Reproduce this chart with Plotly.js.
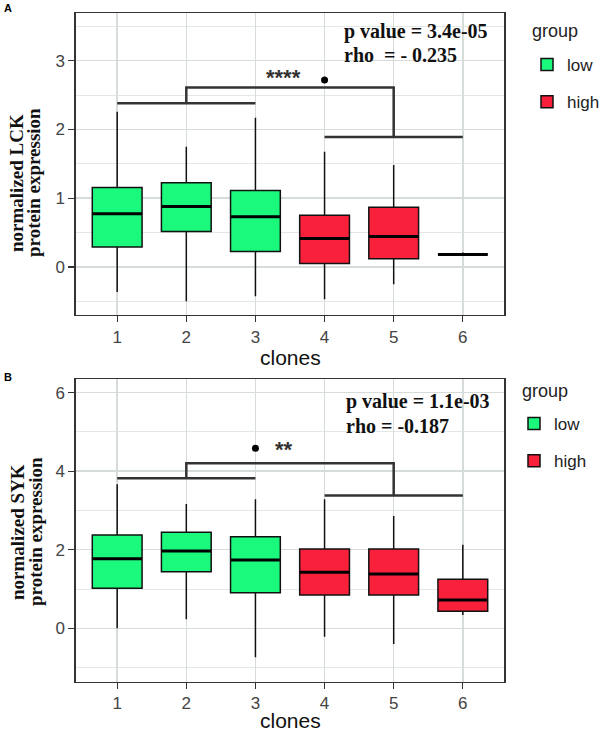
<!DOCTYPE html>
<html>
<head>
<meta charset="utf-8">
<script src="https://cdn.plot.ly/plotly-3.0.1.min.js"></script>
<style>html,body{margin:0;padding:0;background:#fff;}#chart{width:611px;height:735px;}</style>
</head>
<body>
<div id="chart"></div>
<script>
// ---- data ----
const clones = [1, 2, 3, 4, 5, 6];
const cloneLabels = ['1', '2', '3', '4', '5', '6'];
const groups = ['low', 'low', 'low', 'high', 'high', 'high'];

// Panel A: LCK
const lckQ1     = [0.29, 0.515, 0.224, 0.049, 0.117, 0.18];
const lckMedian = [0.772, 0.879, 0.728, 0.413, 0.443, 0.18];
const lckQ3     = [1.156, 1.223, 1.112, 0.753, 0.869, 0.18];
const lckLower  = [-0.364, -0.50, -0.427, -0.47, -0.252, 0.17];
const lckUpper  = [2.257, 1.748, 2.17, 1.675, 1.481, 0.21];
const lckOutX   = [4];
const lckOutY   = [2.72];
const lckBracket = {left: [1, 3, 2.38], right: [4, 6, 1.89], top: [2, 5, 2.61]};
const lckStars = {text: '****', x: 3.4, y: 2.76};
const lckStats = ['p value = 3.4e-05', 'rho  = - 0.235'];

// Panel B: SYK
const sykQ1     = [1.019, 1.442, 0.907, 0.848, 0.848, 0.433];
const sykMedian = [1.773, 1.968, 1.739, 1.426, 1.383, 0.721];
const sykQ3     = [2.376, 2.444, 2.333, 2.019, 2.019, 1.248];
const sykLower  = [0.0, 0.229, -0.739, -0.214, -0.40, 0.339];
const sykUpper  = [3.667, 3.165, 3.285, 3.285, 2.86, 2.13];
const sykOutX   = [3];
const sykOutY   = [4.584];
const sykBracket = {left: [1, 3, 3.82], right: [4, 6, 3.38], top: [2, 5, 4.20]};
const sykStars = {text: '**', x: 3.41, y: 4.55};
const sykStats = ['p value = 1.1e-03', 'rho = -0.187'];

const groupColors = {low: '#1BF97C', high: '#F9203C'};
const boxWidth = 0.72;

// ---- build traces ----
function idx(g) { return clones.map((c, i) => i).filter(i => groups[i] === g); }

function panelTraces(q1, med, q3, lo, hi, outX, outY, br, xa, ya, legendId) {
  const tr = [];
  ['low', 'high'].forEach(g => {
    const ii = idx(g);
    tr.push({
      type: 'box', name: g, legendgroup: g, legend: legendId,
      x: ii.map(i => clones[i]),
      q1: ii.map(i => q1[i]), median: ii.map(i => med[i]), q3: ii.map(i => q3[i]),
      lowerfence: ii.map(i => lo[i]), upperfence: ii.map(i => hi[i]),
      width: boxWidth, whiskerwidth: 0, boxpoints: false,
      fillcolor: groupColors[g], line: {color: '#111', width: 1.5},
      xaxis: xa, yaxis: ya, hoverinfo: 'skip'
    });
  });
  // thicker median lines
  const mx = [], my = [];
  clones.forEach((c, i) => { mx.push(c - boxWidth / 2, c + boxWidth / 2, null); my.push(med[i], med[i], null); });
  tr.push({type: 'scatter', mode: 'lines', x: mx, y: my, line: {color: '#000', width: 3},
           showlegend: false, xaxis: xa, yaxis: ya, hoverinfo: 'skip'});
  // outliers
  tr.push({type: 'scatter', mode: 'markers', x: outX, y: outY, marker: {color: '#000', size: 7},
           showlegend: false, xaxis: xa, yaxis: ya, hoverinfo: 'skip'});
  // brackets
  const bx = [br.left[0], br.left[1], null, br.right[0], br.right[1], null,
              br.top[0], br.top[0], br.top[1], br.top[1]];
  const by = [br.left[2], br.left[2], null, br.right[2], br.right[2], null,
              br.left[2], br.top[2], br.top[2], br.right[2]];
  tr.push({type: 'scatter', mode: 'lines', x: bx, y: by, line: {color: '#333', width: 2.5},
           showlegend: false, xaxis: xa, yaxis: ya, hoverinfo: 'skip'});
  return tr;
}

const data = [].concat(
  panelTraces(lckQ1, lckMedian, lckQ3, lckLower, lckUpper, lckOutX, lckOutY, lckBracket, 'x', 'y', 'legend'),
  panelTraces(sykQ1, sykMedian, sykQ3, sykLower, sykUpper, sykOutX, sykOutY, sykBracket, 'x2', 'y2', 'legend2')
);

// ---- layout ----
const W = 611, H = 735;
const px = v => v / W, py = v => 1 - v / H;
const sans = 'Liberation Sans, Arial, sans-serif';
const serif = 'Liberation Serif, Times New Roman, serif';

function xAxis(anchor) {
  return {
    domain: [px(75.7), px(504.3)], range: [0.4, 6.6], anchor: anchor,
    tickmode: 'array', tickvals: clones, ticktext: cloneLabels,
    showgrid: true, gridcolor: '#d6ddd9', gridwidth: 1.5, zeroline: false,
    showline: true, mirror: true, linecolor: '#333', linewidth: 1.3,
    ticks: 'outside', ticklen: 6, tickcolor: '#333', tickwidth: 1.3,
    tickfont: {family: sans, size: 17, color: '#444'}
  };
}
function yAxis(anchor, dom, range, major, minor) {
  return {
    domain: dom, range: range, anchor: anchor,
    tickmode: 'array', tickvals: major,
    minor: {tickmode: 'array', tickvals: minor, showgrid: true, gridcolor: '#e2e8e5', gridwidth: 1, ticks: ''},
    showgrid: true, gridcolor: '#d6ddd9', gridwidth: 1.5, zeroline: false,
    showline: true, mirror: true, linecolor: '#333', linewidth: 1.3,
    ticks: 'outside', ticklen: 6, tickcolor: '#333', tickwidth: 1.3,
    tickfont: {family: sans, size: 17, color: '#444'}
  };
}

function legendCfg(xp, yp) {
  return {
    x: px(xp), y: py(yp), xanchor: 'left', yanchor: 'top',
    font: {family: sans, size: 17, color: '#222'},
    traceorder: 'grouped', tracegroupgap: 12, bgcolor: 'rgba(0,0,0,0)'
  };
}

function ann(text, x, y, opts) {
  return Object.assign({text: text, xref: 'paper', yref: 'paper', x: px(x), y: py(y),
    showarrow: false, xanchor: 'center', yanchor: 'middle'}, opts || {});
}

const annotations = [
  ann('<b>A</b>', 8, 8, {font: {family: sans, size: 11, color: '#000'}}),
  ann('<b>B</b>', 8, 377, {font: {family: sans, size: 11, color: '#000'}}),
  // legend titles
  ann('group', 530, 31, {xanchor: 'left', font: {family: sans, size: 18, color: '#222'}}),
  ann('group', 520, 391, {xanchor: 'left', font: {family: sans, size: 18, color: '#222'}}),
  // y titles
  ann('<b>normalized LCK</b>', 16, 183, {textangle: -90, font: {family: serif, size: 19, color: '#111'}}),
  ann('<b>protein expression</b>', 33, 183, {textangle: -90, font: {family: serif, size: 19, color: '#111'}}),
  ann('<b>normalized SYK</b>', 17, 532, {textangle: -90, font: {family: serif, size: 19, color: '#111'}}),
  ann('<b>protein expression</b>', 35, 532, {textangle: -90, font: {family: serif, size: 19, color: '#111'}}),
  // x titles
  ann('clones', 290, 358, {font: {family: sans, size: 21, color: '#111'}}),
  ann('clones', 290, 720, {font: {family: sans, size: 21, color: '#111'}}),
  // stats
  ann('<b>' + lckStats[0] + '</b>', 342, 31, {xanchor: 'left', font: {family: serif, size: 20, color: '#111'}}),
  ann('<b>' + lckStats[1] + '</b>', 342, 55, {xanchor: 'left', font: {family: serif, size: 20, color: '#111'}}),
  ann('<b>' + sykStats[0] + '</b>', 344, 401, {xanchor: 'left', font: {family: serif, size: 20, color: '#111'}}),
  ann('<b>' + sykStats[1] + '</b>', 344, 426, {xanchor: 'left', font: {family: serif, size: 20, color: '#111'}}),
  // stars
  {text: '<b>' + lckStars.text + '</b>', x: lckStars.x, y: lckStars.y, xref: 'x', yref: 'y', showarrow: false,
   font: {family: sans, size: 22, color: '#333'}},
  {text: '<b>' + sykStars.text + '</b>', x: sykStars.x, y: sykStars.y, xref: 'x2', yref: 'y2', showarrow: false,
   font: {family: sans, size: 22, color: '#333'}}
];

const layout = {
  width: W, height: H,
  margin: {l: 0, r: 0, t: 0, b: 0},
  paper_bgcolor: '#fff', plot_bgcolor: '#fff',
  showlegend: true,
  xaxis: xAxis('y'),
  yaxis: yAxis('x', [py(315), py(13.3)], [-0.70, 3.69], [0, 1, 2, 3], [-0.5, 0.5, 1.5, 2.5, 3.5]),
  xaxis2: xAxis('y2'),
  yaxis2: yAxis('x2', [py(681.7), py(379.3)], [-1.36, 6.34], [0, 2, 4, 6], [-1, 1, 3, 5]),
  legend: legendCfg(527, 47),
  legend2: legendCfg(514, 406),
  annotations: annotations
};

Plotly.newPlot('chart', data, layout, {displayModeBar: false, staticPlot: true});
</script>
</body>
</html>
